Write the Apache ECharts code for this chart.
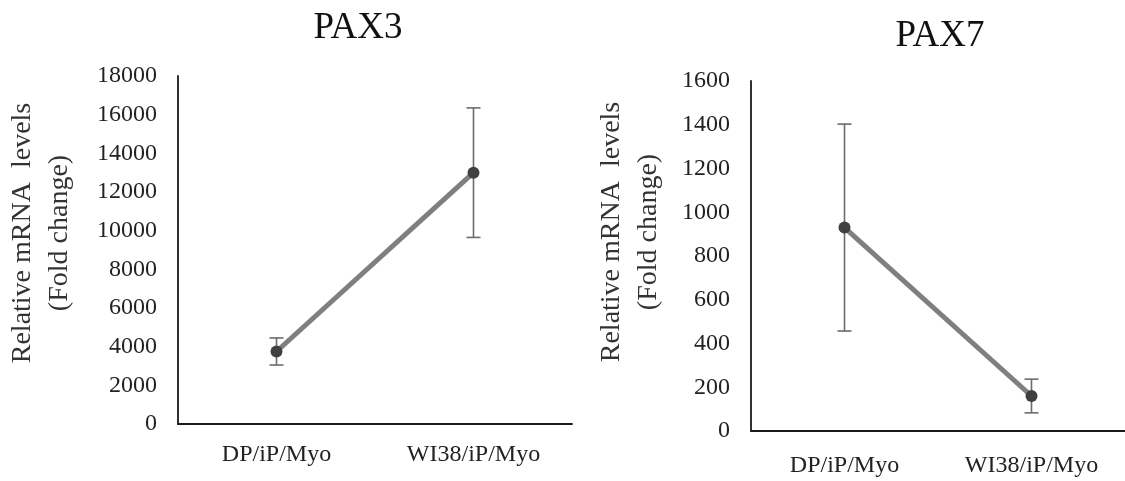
<!DOCTYPE html>
<html>
<head>
<meta charset="utf-8">
<script src="https://cdn.jsdelivr.net/npm/echarts@6/dist/echarts.min.js"></script>
<style>
  html, body { margin: 0; padding: 0; background: #fff; }
  #main { width: 1125px; height: 481px; }
</style>
</head>
<body>
<div id="main"></div>
<script>
// data
const categories = ['DP/iP/Myo', 'WI38/iP/Myo'];
const pax3Mean = [3750, 13000];
const pax3Err = [700, 3350];
const pax7Mean = [930, 160];
const pax7Err = [473, 77];

const FONT = 'Liberation Serif';
const yName = 'Relative mRNA  levels\n(Fold change)';

function errData(mean, err) {
    return mean.map((m, i) => [i, m - err[i], m + err[i]]);
}

function renderErr(params, api) {
    const top = api.coord([api.value(0), api.value(2)]);
    const bot = api.coord([api.value(0), api.value(1)]);
    const cap = 7;
    const style = { stroke: '#6b6b6b', lineWidth: 1.6 };
    return {
        type: 'group',
        children: [
            { type: 'line', shape: { x1: top[0], y1: top[1], x2: bot[0], y2: bot[1] }, style: style },
            { type: 'line', shape: { x1: top[0] - cap, y1: top[1], x2: top[0] + cap, y2: top[1] }, style: style },
            { type: 'line', shape: { x1: bot[0] - cap, y1: bot[1], x2: bot[0] + cap, y2: bot[1] }, style: style }
        ]
    };
}

function xAxisOf(gridIndex, margin) {
    return {
        type: 'category',
        gridIndex: gridIndex,
        data: categories,
        boundaryGap: true,
        axisLine: { lineStyle: { color: '#1a1a1a', width: 1.8 } },
        axisTick: { show: false },
        axisLabel: { color: '#222', fontFamily: FONT, fontSize: 24, margin: margin }
    };
}

function yAxisOf(gridIndex, max, interval, nameGap, shift) {
    return {
        type: 'value',
        gridIndex: gridIndex,
        min: 0,
        max: max,
        interval: interval,
        name: yName,
        nameLocation: 'middle',
        nameRotate: 90,
        nameGap: nameGap,
        nameTextStyle: {
            color: '#333',
            fontFamily: FONT,
            fontSize: 28,
            lineHeight: 37,
            padding: [0, 0, 0, shift]
        },
        axisLine: { show: true, lineStyle: { color: '#1a1a1a', width: 1.8 } },
        axisTick: { show: false },
        splitLine: { show: false },
        axisLabel: {
            color: '#222', fontFamily: FONT, fontSize: 24, margin: 21,
            formatter: v => String(v)
        }
    };
}

function lineSeries(idx, data) {
    return {
        type: 'line',
        xAxisIndex: idx,
        yAxisIndex: idx,
        data: data,
        symbol: 'circle',
        symbolSize: 12,
        itemStyle: { color: '#404040' },
        lineStyle: { color: '#7f7f7f', width: 5 },
        z: 3
    };
}

function errSeries(idx, mean, err) {
    return {
        type: 'custom',
        xAxisIndex: idx,
        yAxisIndex: idx,
        data: errData(mean, err),
        renderItem: renderErr,
        encode: { x: 0, y: [1, 2] },
        z: 2
    };
}

const chart = echarts.init(document.getElementById('main'));
const option = {
    backgroundColor: '#fff',
    animation: false,
    title: [
        {
            text: 'PAX3', left: 353, top: 5, textAlign: 'center',
            textStyle: { color: '#111', fontFamily: FONT, fontSize: 37, fontWeight: 'normal' }
        },
        {
            text: 'PAX7', left: 935, top: 13, textAlign: 'center',
            textStyle: { color: '#111', fontFamily: FONT, fontSize: 37, fontWeight: 'normal' }
        }
    ],
    grid: [
        { left: 178, top: 76, width: 394, height: 348 },
        { left: 751, top: 81, width: 382, height: 350 }
    ],
    xAxis: [xAxisOf(0, 19), xAxisOf(1, 23)],
    yAxis: [yAxisOf(0, 18000, 2000, 100, 34), yAxisOf(1, 1600, 200, 84, 48)],
    series: [
        errSeries(0, pax3Mean, pax3Err),
        lineSeries(0, pax3Mean),
        errSeries(1, pax7Mean, pax7Err),
        lineSeries(1, pax7Mean)
    ]
};
chart.setOption(option);
</script>
</body>
</html>
